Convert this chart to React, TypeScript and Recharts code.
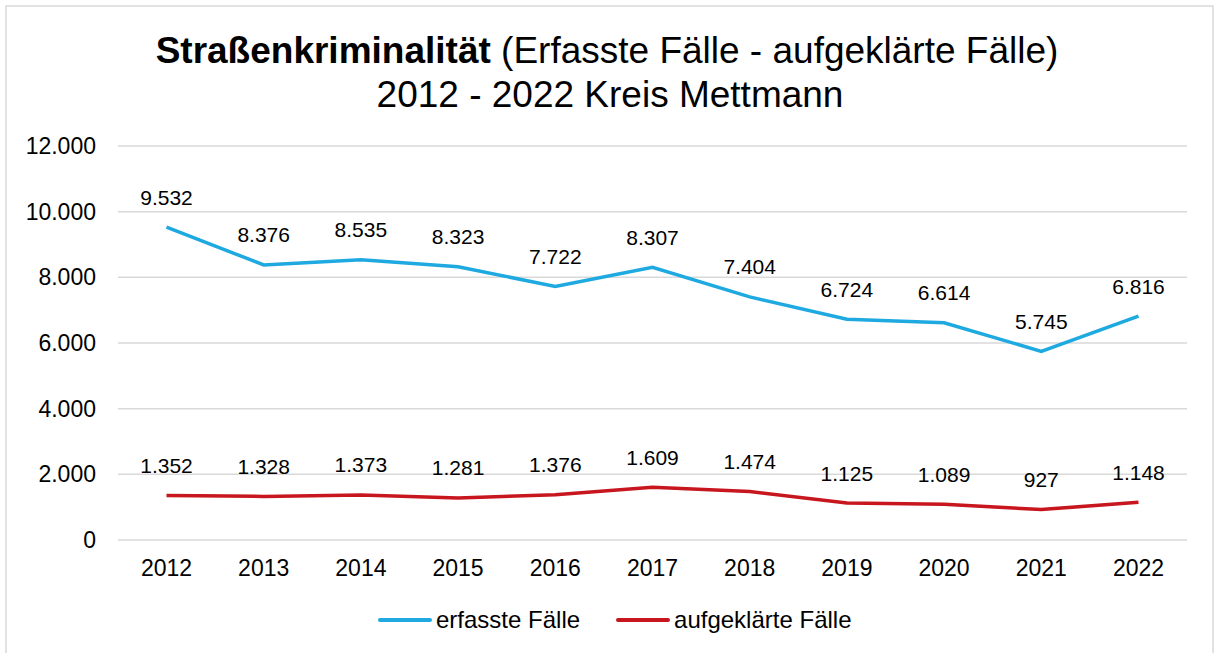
import React from "react";
import { LineChart, Line, XAxis, YAxis, CartesianGrid, LabelList, Legend, Customized } from "recharts";

const years = ["2012", "2013", "2014", "2015", "2016", "2017", "2018", "2019", "2020", "2021", "2022"];
const erfasst = [9532, 8376, 8535, 8323, 7722, 8307, 7404, 6724, 6614, 5745, 6816];
const aufgeklaert = [1352, 1328, 1373, 1281, 1376, 1609, 1474, 1125, 1089, 927, 1148];
const yTicks = [0, 2000, 4000, 6000, 8000, 10000, 12000];
const seriesNames = ["erfasste Fälle", "aufgeklärte Fälle"];
const titleBold = "Straßenkriminalität";
const titleRest = " (Erfasste Fälle - aufgeklärte Fälle)";
const titleLine2 = "2012 - 2022 Kreis Mettmann";

const BLUE = "#1EA9E1";
const RED = "#C8161E";
const FONT = "'Liberation Sans', Arial, sans-serif";

const data = years.map((y, i) => ({ year: y, erfasst: erfasst[i], aufgeklaert: aufgeklaert[i] }));

const fmt = (v: number) => {
  const s = String(Math.round(v));
  return s.replace(/\B(?=(\d{3})+(?!\d))/g, ".");
};

const Decor = () => (
  <g>
    <rect x={6} y={6} width={1207} height={700} fill="none" stroke="#d9d9d9" strokeWidth={1.5} />
    <text x={607} y={63} textAnchor="middle" fontFamily={FONT} fontSize={37} fill="#000">
      <tspan fontWeight="bold">{titleBold}</tspan>
      <tspan>{titleRest}</tspan>
    </text>
    <text x={610} y={107} textAnchor="middle" fontFamily={FONT} fontSize={37} fill="#000">
      {titleLine2}
    </text>
  </g>
);

const LegendContent = () => {
  const colors = [BLUE, RED];
  return (
    <div style={{ height: 40, display: "flex", justifyContent: "flex-start", paddingLeft: 378, alignItems: "center", fontFamily: FONT, fontSize: 24, color: "#000", gap: 36 }}>
      {seriesNames.map((n, i) => (
        <div key={n} style={{ display: "flex", alignItems: "center" }}>
          <div style={{ width: 54, height: 4, background: colors[i], borderRadius: 2, marginRight: 4 }} />
          <span>{n}</span>
        </div>
      ))}
    </div>
  );
};

export default function App() {
  return (
    <div style={{ position: "absolute", left: 0, top: 0, width: 1216, height: 653, background: "#fff" }}>
      <LineChart width={1216} height={653} data={data} margin={{ top: 146, right: 29, left: 0, bottom: 33 }}>
        <Customized component={Decor} />
        <CartesianGrid vertical={false} stroke="#d9d9d9" strokeWidth={1.5} />
        <XAxis
          dataKey="year"
          height={40}
          axisLine={false}
          tickLine={false}
          tickSize={0}
          tickMargin={20}
          padding={{ left: 48.5, right: 48.5 }}
          interval={0}
          tick={{ fontFamily: FONT, fontSize: 23, fill: "#000" }}
        />
        <YAxis
          width={118}
          domain={[0, 12000]}
          ticks={yTicks}
          axisLine={false}
          tickLine={false}
          tickSize={0}
          tickMargin={22}
          tickFormatter={fmt}
          tick={{ fontFamily: FONT, fontSize: 23, fill: "#000" }}
        />
        <Legend
          verticalAlign="bottom"
          content={<LegendContent />}
          wrapperStyle={{ top: 600, left: 0, width: 1216, bottom: "auto" }}
        />
        <Line type="linear" dataKey="erfasst" name={seriesNames[0]} stroke={BLUE} strokeWidth={3.5} dot={false} isAnimationActive={false}>
          <LabelList dataKey="erfasst" position="top" offset={22.5} formatter={fmt} style={{ fontFamily: FONT, fontSize: 21, fill: "#000" }} />
        </Line>
        <Line type="linear" dataKey="aufgeklaert" name={seriesNames[1]} stroke={RED} strokeWidth={3.5} dot={false} isAnimationActive={false}>
          <LabelList dataKey="aufgeklaert" position="top" offset={22.5} formatter={fmt} style={{ fontFamily: FONT, fontSize: 21, fill: "#000" }} />
        </Line>
      </LineChart>
    </div>
  );
}
